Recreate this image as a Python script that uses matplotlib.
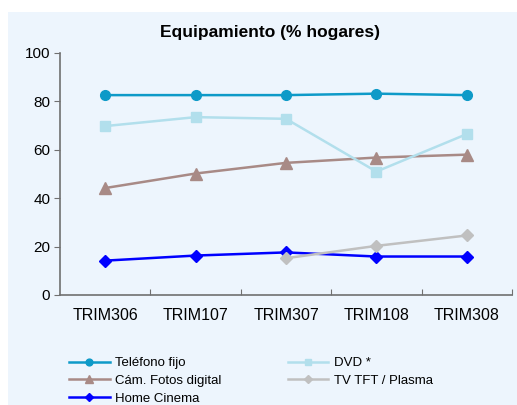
import matplotlib
matplotlib.use("Agg")
import matplotlib.pyplot as plt
from matplotlib.patches import Rectangle

categories = ["TRIM306", "TRIM107", "TRIM307", "TRIM108", "TRIM308"]
telefono = [82.6, 82.6, 82.6, 83.2, 82.6]
dvd = [69.8, 73.5, 72.8, 51.0, 66.5]
camara = [44.2, 50.2, 54.6, 56.8, 58.0]
tv = [None, None, 15.2, 20.3, 24.6]
home = [14.2, 16.3, 17.6, 15.9, 15.9]

plt.rcParams['font.family'] = ['Liberation Sans', 'DejaVu Sans']

fig = plt.figure(figsize=(5.17, 4.05), dpi=100)
fig.patch.set_facecolor('white')
bgax = fig.add_axes([0, 0, 1, 1], zorder=-5)
bgax.set_axis_off()
bgax.add_patch(Rectangle((8/517, 0), 1 - 8/517, (405-12)/405, transform=bgax.transAxes,
               facecolor='#EDF5FD', edgecolor='none'))

ax = fig.add_axes([60/517, (405-295)/405, (512-60)/517, (295-53)/405], zorder=1)
ax.set_facecolor('none')

x = list(range(len(categories)))
def xs_ys(vals):
    pts = [(i, v) for i, v in zip(x, vals) if v is not None]
    return [p[0] for p in pts], [p[1] for p in pts]

series = [
    (telefono, 'Teléfono fijo', '#0E9AC8', 'o', 7),
    (camara, 'Cám. Fotos digital', '#A88A86', '^', 8),
    (home, 'Home Cinema', '#0000FF', 'D', 6),
    (dvd, 'DVD *', '#B2DFEC', 's', 7),
    (tv, 'TV TFT / Plasma', '#C0C0C0', 'D', 6),
]
handles = []
for vals, label, color, marker, ms in series:
    xx, yy = xs_ys(vals)
    h, = ax.plot(xx, yy, color=color, marker=marker, markersize=ms, linewidth=1.8,
                 label=label, markeredgecolor=color)
    handles.append(h)

ax.set_xlim(-0.5, 4.5)
ax.set_ylim(0, 100)
ax.set_yticks([0, 20, 40, 60, 80, 100])
ax.tick_params(axis='y', direction='out', length=4, color='#707070', labelsize=11, pad=3)
ax.set_xticks([0.5, 1.5, 2.5, 3.5, 4.5])
ax.set_xticklabels([])
ax.tick_params(axis='x', which='major', direction='in', length=4, color='#707070')
ax.set_xticks(x, minor=True)
ax.set_xticklabels(categories, minor=True)
ax.tick_params(axis='x', which='minor', length=0, labelsize=11.5, pad=9)
for s in ['top', 'right']:
    ax.spines[s].set_visible(False)
for s in ['left', 'bottom']:
    ax.spines[s].set_color('#707070')
    ax.spines[s].set_linewidth(1.2)

fig.text(0.522, 1 - 32/405, 'Equipamiento (% hogares)', ha='center', va='center',
         fontsize=12.5, fontweight='bold')

leg = fig.legend(handles=handles, labels=[h.get_label() for h in handles], ncol=2,
                 loc='upper left', bbox_to_anchor=(69/517, 1 - 357/405),
                 frameon=False, fontsize=9.5, handlelength=3.1, markerscale=0.7,
                 labelspacing=0.42, columnspacing=5.0, handletextpad=0.4,
                 borderaxespad=0, borderpad=0)

fig.savefig('out.png', dpi=100, facecolor=fig.get_facecolor())
